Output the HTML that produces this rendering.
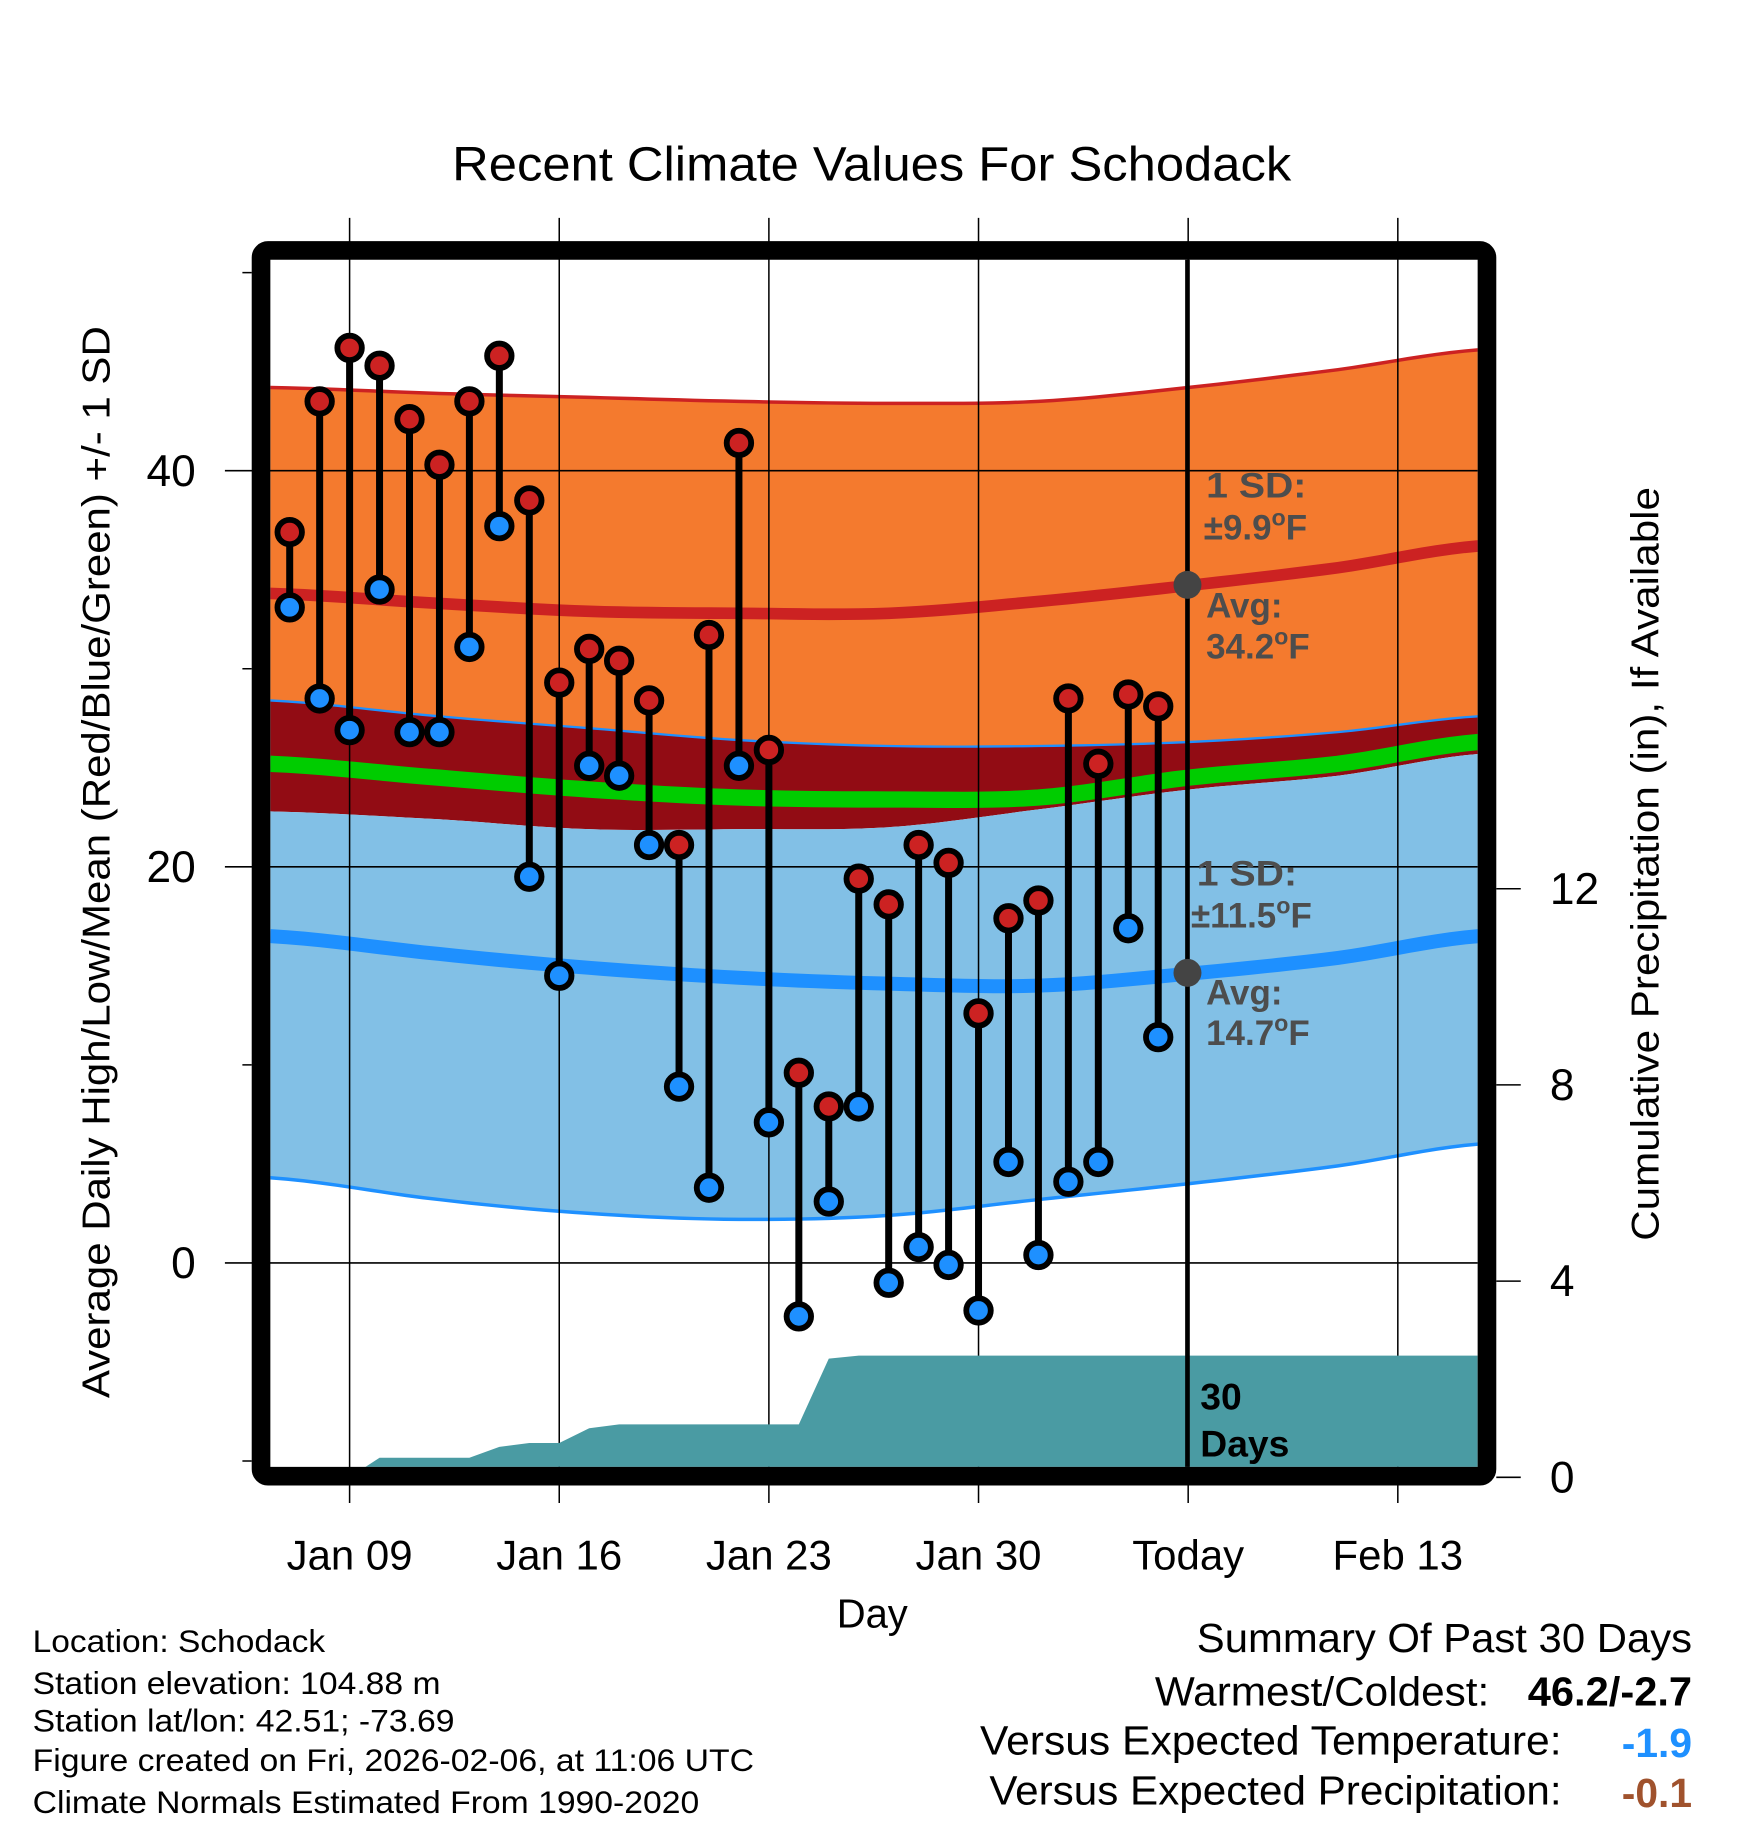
<!DOCTYPE html>
<html><head><meta charset="utf-8"><style>
html,body{margin:0;padding:0;background:#fff;}
svg{display:block;font-family:"Liberation Sans",Arial,sans-serif;}
</style></head><body>
<svg id="chart" width="1748" height="1828" viewBox="0 0 1500 1569" preserveAspectRatio="none" xmlns="http://www.w3.org/2000/svg">
<defs><clipPath id="plotclip"><rect x="232" y="223" width="1036" height="1036"/></clipPath></defs>
<text x="388" y="155" font-size="41" textLength="720" lengthAdjust="spacingAndGlyphs">Recent Climate Values For Schodack</text>
<g id="bands" clip-path="url(#plotclip)"></g>
<g id="grid"></g>
<g id="precip" clip-path="url(#plotclip)"></g>
<line x1="1019" y1="223" x2="1019" y2="1259" stroke="#000" stroke-width="4"/>
<g id="annot" font-weight="bold" font-size="30" fill="#4d4d4d">
<circle cx="1019" cy="502" r="12" fill="#444"/>
<circle cx="1019" cy="835" r="12" fill="#444"/>
<text x="1035" y="427" textLength="86" lengthAdjust="spacingAndGlyphs">1 SD:</text>
<text x="1033" y="463">±9.9<tspan font-size="20" dy="-12">o</tspan><tspan dy="12">F</tspan></text>
<text x="1035" y="530">Avg:</text>
<text x="1035" y="565">34.2<tspan font-size="20" dy="-12">o</tspan><tspan dy="12">F</tspan></text>
<text x="1027" y="760" textLength="86" lengthAdjust="spacingAndGlyphs">1 SD:</text>
<text x="1022" y="796">±11.5<tspan font-size="20" dy="-12">o</tspan><tspan dy="12">F</tspan></text>
<text x="1035" y="862">Avg:</text>
<text x="1035" y="897">14.7<tspan font-size="20" dy="-12">o</tspan><tspan dy="12">F</tspan></text>
</g>
<g id="points"></g>
<text x="1030" y="1210" font-size="32" font-weight="bold">30</text>
<text x="1030" y="1250" font-size="32" font-weight="bold">Days</text>
<rect x="224" y="215" width="1052" height="1052" rx="6" fill="none" stroke="#000" stroke-width="16"/>
<g id="axes" font-size="36"></g>
<text transform="translate(94,1200) rotate(-90)" font-size="33" textLength="920" lengthAdjust="spacingAndGlyphs">Average Daily High/Low/Mean (Red/Blue/Green) +/- 1 SD</text>
<text transform="translate(1423,1065) rotate(-90)" font-size="33" textLength="647" lengthAdjust="spacingAndGlyphs">Cumulative Precipitation (in), If Available</text>
<text x="718" y="1397" font-size="35" textLength="61" lengthAdjust="spacingAndGlyphs">Day</text>
<g font-size="27">
<text x="28" y="1418" textLength="251" lengthAdjust="spacingAndGlyphs">Location: Schodack</text>
<text x="28" y="1454" textLength="350" lengthAdjust="spacingAndGlyphs">Station elevation: 104.88 m</text>
<text x="28" y="1486" textLength="362" lengthAdjust="spacingAndGlyphs">Station lat/lon: 42.51; -73.69</text>
<text x="28" y="1520" textLength="619" lengthAdjust="spacingAndGlyphs">Figure created on Fri, 2026-02-06, at 11:06 UTC</text>
<text x="28" y="1556" textLength="572" lengthAdjust="spacingAndGlyphs">Climate Normals Estimated From 1990-2020</text>
</g>
<g font-size="35">
<text x="1027" y="1418" textLength="425" lengthAdjust="spacingAndGlyphs">Summary Of Past 30 Days</text>
<text x="991" y="1464" textLength="287" lengthAdjust="spacingAndGlyphs">Warmest/Coldest:</text>
<text x="1311" y="1464" font-weight="bold" textLength="141" lengthAdjust="spacingAndGlyphs">46.2/-2.7</text>
<text x="841" y="1506" textLength="499" lengthAdjust="spacingAndGlyphs">Versus Expected Temperature:</text>
<text x="1452" y="1508" font-weight="bold" fill="#1e90ff" text-anchor="end">-1.9</text>
<text x="849" y="1549" textLength="491" lengthAdjust="spacingAndGlyphs">Versus Expected Precipitation:</text>
<text x="1452" y="1551" font-weight="bold" fill="#a0522d" text-anchor="end">-0.1</text>
</g>
</svg>
<script>
// day index 0 = Jan 07
const highs=[36.9,43.5,46.2,45.3,42.6,40.3,43.5,45.8,38.5,29.3,31.0,30.4,28.4,21.1,31.7,41.4,25.9,9.6,7.9,19.4,18.1,21.1,20.2,12.6,17.4,18.3,28.5,25.2,28.7,28.1];
const lows=[33.1,28.5,26.9,34.0,26.8,26.8,31.1,37.2,19.5,14.5,25.1,24.6,21.1,8.9,3.8,25.1,7.1,-2.7,3.1,7.9,-1.0,0.8,-0.1,-2.4,5.1,0.4,4.1,5.1,16.9,11.4];
const precip=[0,0,0,0.40,0.40,0.40,0.40,0.62,0.70,0.70,1.0,1.08,1.08,1.08,1.08,1.08,1.08,1.08,2.42,2.48,2.48,2.48,2.48,2.48,2.48,2.48,2.48,2.48,2.48,2.48];
const normDays=[-0.65,5,10,15,20,25,30,35,39.7];
const highUpper=[44.2,43.9,43.7,43.5,43.4,43.5,44.2,45.1,46.1];
const highMean=[33.8,33.3,32.9,32.8,32.8,33.4,34.2,35.1,36.2];
const highLower=[28.4,27.6,27.0,26.4,26.1,26.1,26.3,26.8,27.6];
const meanNorm=[25.2,24.5,23.9,23.5,23.4,23.5,24.5,25.2,26.3];
const lowUpper=[22.8,22.4,21.9,21.9,22.0,22.9,23.9,24.6,25.7];
const lowMean=[16.5,15.6,14.9,14.4,14.1,14.0,14.6,15.4,16.5];
const lowLower=[4.3,3.2,2.5,2.2,2.4,3.2,4.0,4.9,6.0];
const yTicks=[0,20,40];
const yMinor=[-10,10,30,50];
const pTicks=[0,4,8,12];
const xTickDays=[2,9,16,23,30,37];
const xTickLabels=["Jan 09","Jan 16","Jan 23","Jan 30","Today","Feb 13"];

const X=d=>248.6+d*25.7;
const Y=v=>1084-v*17;
const P=p=>1268-p*42.1;
const NS="http://www.w3.org/2000/svg";
function mk(tag,attrs,parent){const e=document.createElementNS(NS,tag);for(const k in attrs)e.setAttribute(k,attrs[k]);parent.appendChild(e);return e;}
function curve(vals){const pts=[];const n=normDays.length;
 for(let i=0;i<n-1;i++){const p0=vals[Math.max(i-1,0)],p1=vals[i],p2=vals[i+1],p3=vals[Math.min(i+2,n-1)];
  const d0=normDays[i],d1=normDays[i+1];
  for(let s=0;s<10;s++){const t=s/10;const v=0.5*((2*p1)+(-p0+p2)*t+(2*p0-5*p1+4*p2-p3)*t*t+(-p0+3*p1-3*p2+p3)*t*t*t);
   pts.push([X(d0+(d1-d0)*t),Y(v)]);}}
 pts.push([X(normDays[n-1]),Y(vals[n-1])]);return pts;}
function band(a,b,fill,name,parent){const u=curve(a),l=curve(b).reverse();
 const e=mk('polygon',{points:u.concat(l).map(p=>p.join(',')).join(' '),fill:fill},parent);
 
 }
function line(a,color,w,name,parent){const e=mk('polyline',{points:curve(a).map(p=>p.join(',')).join(' '),fill:'none',stroke:color,'stroke-width':w},parent);
 
 }
const bands=document.getElementById('bands');
band(highUpper,highLower,'#f47a2e','high-sd-band',bands);
band(highLower,lowUpper,'#920c14','overlap-band',bands);
band(lowUpper,lowLower,'#82c0e6','low-sd-band',bands);
line(highUpper,'#cc2222',3,'high-upper-line',bands);
line(highLower,'#1e90ff',2,'high-lower-line',bands);
line(lowLower,'#1e90ff',3,'low-lower-line',bands);
line(meanNorm,'#00cc00',14,'mean-normal-line',bands);
line(highMean,'#cc2222',10,'high-normal-line',bands);
line(lowMean,'#1e90ff',12,'low-normal-line',bands);

const grid=document.getElementById('grid');
xTickDays.forEach((d,i)=>{const e=mk('line',{x1:X(d),x2:X(d),y1:187,y2:1290,stroke:'#000','stroke-width':1.3},grid);
 
 });
yTicks.forEach(v=>{const e=mk('line',{x1:193,x2:1268,y1:Y(v),y2:Y(v),stroke:'#000','stroke-width':1.3},grid);
 
 });

const pr=document.getElementById('precip');
let pp=[[X(0),P(precip[0])]];
precip.forEach((p,i)=>pp.push([X(i),P(p)]));
pp.push([1268,P(precip[precip.length-1])]);pp.push([1268,1280]);pp.push([X(0),1280]);
const pe=mk('polygon',{points:pp.map(p=>p.join(',')).join(' '),fill:'#4a9ba3'},pr);



const pts=document.getElementById('points');
highs.forEach((h,i)=>{const g=mk('g',{},pts);
 
 
 const l=mk('line',{x1:X(i),x2:X(i),y1:Y(h),y2:Y(lows[i]),stroke:'#000','stroke-width':6},g);
 
 
 const c1=mk('circle',{cx:X(i),cy:Y(h),r:10.5,fill:'#cc2222',stroke:'#000','stroke-width':5},g);
 
 
 const c2=mk('circle',{cx:X(i),cy:Y(lows[i]),r:10.5,fill:'#1e90ff',stroke:'#000','stroke-width':5},g);
 
 });

const ax=document.getElementById('axes');
yTicks.forEach(v=>{const t=mk('text',{x:168,y:Y(v)+13,'text-anchor':'end','font-size':38},ax);t.textContent=v;
 
 });
yMinor.forEach(v=>{const e=mk('line',{x1:208,x2:216,y1:Y(v),y2:Y(v),stroke:'#000','stroke-width':1.3},ax);
 
 });
pTicks.forEach(v=>{const e=mk('line',{x1:1284,x2:1305,y1:P(v),y2:P(v),stroke:'#000','stroke-width':1.3},ax);
 
 
 const t=mk('text',{x:1330,y:P(v)+13,'font-size':38},ax);t.textContent=v;
 
 });
xTickDays.forEach((d,i)=>{const t=mk('text',{x:X(d),y:1347,'text-anchor':'middle'},ax);t.textContent=xTickLabels[i];
 
 });
</script>
</body></html>
